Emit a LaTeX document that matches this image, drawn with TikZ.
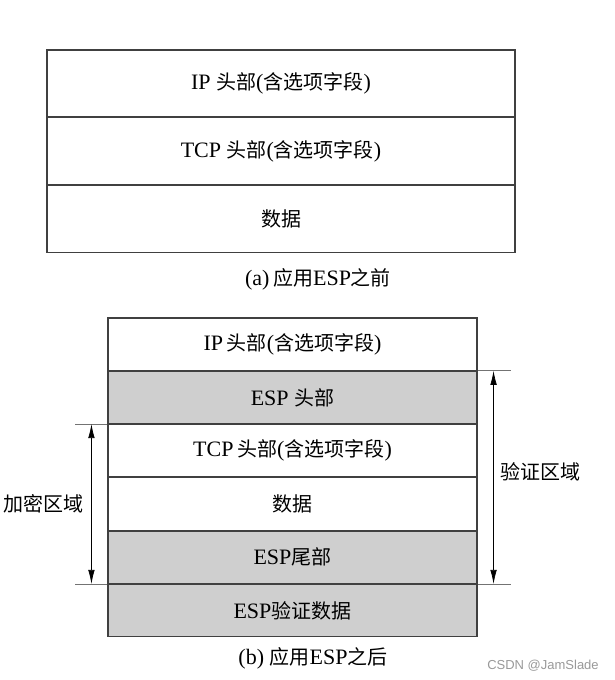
\documentclass[tikz,border=0pt]{standalone}
\usepackage{fontspec}
\setmainfont{Liberation Serif}[Scale=1.1]
\newfontfamily\cjk{Noto Sans CJK SC}
\newfontfamily\wm{Liberation Sans}
\usetikzlibrary{positioning, arrows.meta}
\definecolor{espgray}{RGB}{207,207,207}
\newcommand{\zh}[1]{{\cjk #1}}

\begin{document}
\begin{tikzpicture}[x=1pt, y=-1pt, node distance=0pt,
  fa/.style={draw=black!75, line width=1.1pt, minimum width=468pt, minimum height=66.7pt, inner sep=0pt, font=\fontsize{20}{20}\selectfont},
  fb/.style={fa, minimum width=369pt, minimum height=52.2pt},
  sh/.style={fb, fill=espgray},
  ext/.style={draw=black!55, line width=0.8pt},
  dim/.style={draw=black, line width=0.7pt, {Latex[length=14pt,width=6.5pt]}-{Latex[length=14pt,width=6.5pt]}},
  lab/.style={font=\fontsize{20}{20}\selectfont}]
  \useasboundingbox (0,0) rectangle (614,680);
  % (a) before ESP
  \node[fa] (ip) at (281,83.3) {IP \zh{头部}(\zh{含选项字段})};
  \node[fa, below=of ip] (tcp) {TCP \zh{头部}(\zh{含选项字段})};
  \node[fa, below=of tcp] (data) {\zh{数据}};
  \node[lab] (capa) at (318,279) {(a)\,\zh{应用}ESP\zh{之前}};
  % (b) after ESP
  \node[fb] (ip2) at (292.5,344.1) {IP\,\zh{头部}(\zh{含选项字段})};
  \node[sh, below=of ip2] (esph) {ESP \zh{头部}};
  \node[fb, below=of esph] (tcp2) {TCP\,\zh{头部}(\zh{含选项字段})};
  \node[fb, below=of tcp2] (data2) {\zh{数据}};
  \node[sh, below=of data2] (espt) {ESP\zh{尾部}};
  \node[sh, below=of espt] (auth) {ESP\zh{验证数据}};
  \node[lab] (capb) at (313,658) {(b) \zh{应用}ESP\zh{之后}};
  % extension lines
  \coordinate (rt) at ([xshift=33pt]esph.north east);
  \coordinate (rb) at ([xshift=33pt]auth.north east);
  \coordinate (lt) at ([xshift=-32pt]tcp2.north west);
  \coordinate (lb) at ([xshift=-32pt]auth.north west);
  \draw[ext] (esph.north east) -- (rt);
  \draw[ext] (auth.north east) -- (rb);
  \draw[ext] (tcp2.north west) -- (lt);
  \draw[ext] (auth.north west) -- (lb);
  % ranges
  \coordinate (vt) at ([xshift=16pt]esph.north east);
  \coordinate (vb) at ([xshift=16pt]auth.north east);
  \coordinate (et) at ([xshift=-16pt]tcp2.north west);
  \coordinate (eb) at ([xshift=-16pt]auth.north west);
  \draw[dim] (vt) -- (vb) node[midway, right=3pt, yshift=6pt, lab] (auz) {\zh{验证区域}};
  \draw[dim] (et) -- (eb) node[midway, left=4pt, lab] (enz) {\zh{加密区域}};
  \node[font=\wm\fontsize{13}{13}\selectfont, text=black!40] (mark) at (543,666) {CSDN @JamSlade};
\end{tikzpicture}
\end{document}
